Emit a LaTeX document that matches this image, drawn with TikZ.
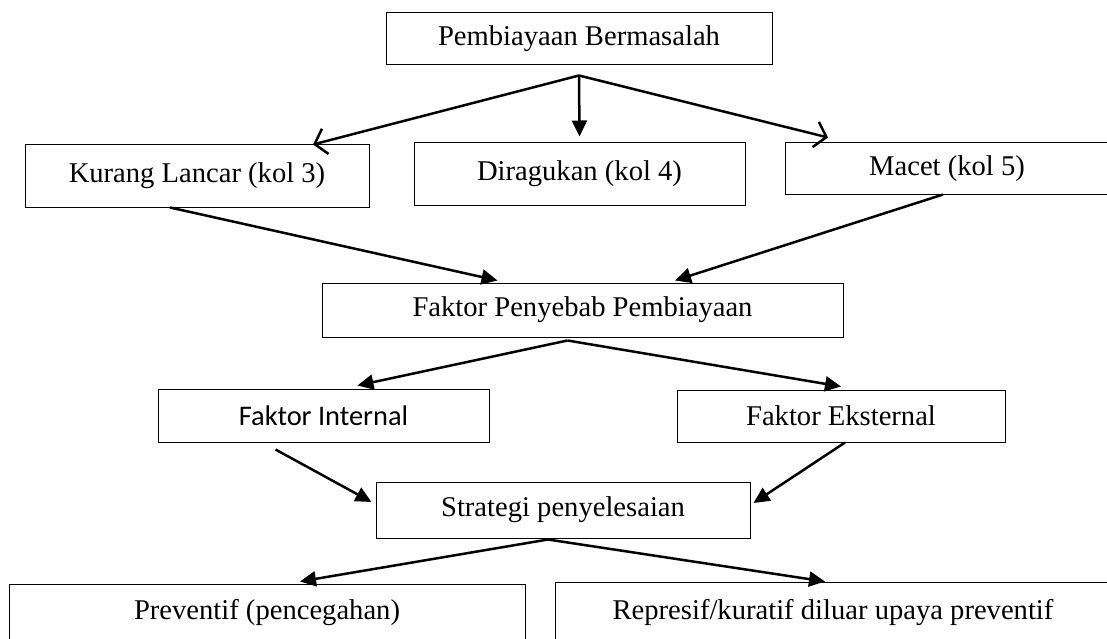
\documentclass[tikz,border=0pt]{standalone}
\usepackage{fontspec}
\newfontfamily\sansc{Carlito}
\newfontfamily\serifc{Liberation Serif}
\usetikzlibrary{arrows.meta}

\begin{document}
\begin{tikzpicture}[x=1pt,y=-1pt,
  kotak/.style={draw=black,line width=1pt,inner sep=0pt,
    font=\serifc\fontsize{28.6}{32}\selectfont},
  panah/.style={line width=2.5pt,-{Triangle[length=16pt,width=15pt]}},
  panahv/.style={line width=2.5pt,-{Straight Barb[length=11pt,width=26pt]}}]
    \useasboundingbox (0,0) rectangle (1107,639);
    % kotak atas
    \node[kotak,minimum width=386pt,minimum height=52pt] (atas) at (579,39)
      {Pembiayaan Bermasalah};
    % kolektibilitas
    \node[kotak,minimum width=344pt,minimum height=62pt] (kurang) at (197,176)
      {Kurang Lancar (kol 3)};
    \node[kotak,minimum width=331pt,minimum height=62pt] (ragu) at (579.5,174)
      {Diragukan (kol 4)};
    \node[kotak,minimum width=324pt,minimum height=51pt] (macet) at (947,168.5)
      {Macet (kol 5)};
    % faktor
    \node[kotak,minimum width=521pt,minimum height=54pt] (faktor) at (582.5,310)
      {Faktor Penyebab Pembiayaan};
    \node[kotak,minimum width=331pt,minimum height=53pt,
      font=\sansc\fontsize{28.4}{32}\selectfont] (internal) at (323.5,415.5)
      {Faktor Internal};
    \node[kotak,minimum width=328pt,minimum height=52pt] (eksternal) at (841,416)
      {Faktor Eksternal};
    % strategi
    \node[kotak,minimum width=374pt,minimum height=56pt] (strategi) at (563,510)
      {Strategi penyelesaian};
    \node[kotak,minimum width=516pt,minimum height=58pt] (preventif) at (267,613)
      {Preventif (pencegahan)};
    \node[kotak,minimum width=556pt,minimum height=62pt] (represif) at (833,613)
      {Represif/kuratif diluar upaya preventif};

    % titik ujung panah
    \coordinate (jatas) at ([yshift=-10pt]atas.south);
    \coordinate (tkurang) at ([xshift=116pt]kurang.north);
    \coordinate (tragu) at ([yshift=6pt]ragu.north);
    \coordinate (tmacet) at ([xshift=-119pt,yshift=5pt]macet.north);
    \coordinate (skurang) at ([xshift=-27pt]kurang.south);
    \coordinate (smacet) at ([xshift=-4pt]macet.south);
    \coordinate (tfaktorl) at ([xshift=-85pt,yshift=2pt]faktor.north);
    \coordinate (tfaktorr) at ([xshift=92.5pt,yshift=2pt]faktor.north);
    \coordinate (jfaktor) at ([xshift=-15pt,yshift=-3pt]faktor.south);
    \coordinate (tinternal) at ([xshift=34pt,yshift=3pt]internal.north);
    \coordinate (teksternal) at ([yshift=3pt]eksternal.north);
    \coordinate (sinternal) at ([xshift=-48pt,yshift=-7pt]internal.south);
    \coordinate (seksternal) at ([xshift=4pt]eksternal.south);
    \coordinate (tstratl) at ([xshift=-4pt,yshift=8pt]strategi.west);
    \coordinate (tstratr) at ([xshift=3pt,yshift=7pt]strategi.east);
    \coordinate (jstrat) at ([xshift=-15pt,yshift=-1pt]strategi.south);
    \coordinate (tprev) at ([xshift=33pt,yshift=2pt]preventif.north);
    \coordinate (trepr) at ([xshift=-8pt]represif.north);

    % panah
    \draw[panahv] (jatas) -- (tkurang);
    \draw[panah] (jatas) -- (tragu);
    \draw[panahv] (jatas) -- (tmacet);
    \draw[panah] (skurang) -- (tfaktorl);
    \draw[panah] (smacet) -- (tfaktorr);
    \draw[panah] (jfaktor) -- (tinternal);
    \draw[panah] (jfaktor) -- (teksternal);
    \draw[panah] (sinternal) -- (tstratl);
    \draw[panah] (seksternal) -- (tstratr);
    \draw[panah] (jstrat) -- (tprev);
    \draw[panah] (jstrat) -- (trepr);
\end{tikzpicture}
\end{document}
